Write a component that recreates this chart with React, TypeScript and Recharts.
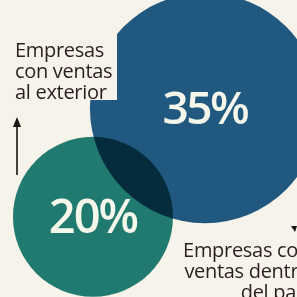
import React from "react";
import { ScatterChart, Scatter, XAxis, YAxis, ZAxis, LabelList } from "recharts";

// two overlapping circles: share of companies by where they sell
const exterior = [{ x: 69, y: 63.6, pct: 35 }];
const interior = [{ x: 31.3, y: 27, pct: 20 }];
const labelExterior = ["Empresas", "con ventas", "al exterior"];
const labelInterior = ["Empresas con", "ventas dentro", "del país"];

const PAPER = "#f6f3ea";
const FONT = "'Open Sans', 'DejaVu Sans', sans-serif";

const App: React.FC = () => {
  return (
    <div
      style={{
        position: "absolute",
        left: 0,
        top: 0,
        width: 297,
        height: 297,
        overflow: "hidden",
        background: PAPER,
        fontFamily: FONT,
      }}
    >
      <style>{`.venn path.recharts-symbols { mix-blend-mode: multiply; }`}</style>
      <ScatterChart
        className="venn"
        width={297}
        height={297}
        margin={{ top: 0, right: 0, bottom: 0, left: 0 }}
      >
        <XAxis type="number" dataKey="x" domain={[0, 100]} hide />
        <YAxis type="number" dataKey="y" domain={[0, 100]} hide />
        <ZAxis type="number" dataKey="pct" domain={[20, 35]} range={[20106, 41548]} />
        <Scatter data={exterior} fill="#215c8a" shape="circle" isAnimationActive={false}>
          <LabelList
            dataKey="pct"
            position="center"
            formatter={(v: any) => `${v}%`}
            fill="#f4f7ea"
            fontSize={46}
            fontWeight={600}
            letterSpacing={-2.5}
            fontFamily={FONT}
          />
        </Scatter>
        <Scatter data={interior} fill="#21807a" shape="circle" isAnimationActive={false}>
          <LabelList
            dataKey="pct"
            position="center"
            formatter={(v: any) => `${v}%`}
            fill="#f4f7ea"
            fontSize={47}
            fontWeight={600}
            letterSpacing={-2}
            fontFamily={FONT}
          />
        </Scatter>
      </ScatterChart>

      <div
        style={{
          position: "absolute",
          left: 0,
          top: 0,
          width: 117,
          height: 100,
          background: PAPER,
        }}
      />
      <div
        style={{
          position: "absolute",
          left: 15,
          top: 39,
          fontSize: 20,
          lineHeight: "21px",
          color: "#2a1f1c",
          letterSpacing: -0.3,
        }}
      >
        {labelExterior.map((t) => (
          <div key={t}>{t}</div>
        ))}
      </div>
      <svg style={{ position: "absolute", left: 0, top: 0 }} width={297} height={297}>
        <line x1={17} y1={126} x2={17} y2={175} stroke="#1a1412" strokeWidth={1.6} />
        <polygon points="17,117 13,127 21,127" fill="#1a1412" />
        <polygon points="291,226 297,226 295,232" fill="#1a1412" />
      </svg>
      <div
        style={{
          position: "absolute",
          left: 140,
          width: 170,
          top: 239,
          fontSize: 20,
          lineHeight: "21px",
          color: "#2a1f1c",
          textAlign: "right",
          letterSpacing: -0.3,
        }}
      >
        {labelInterior.map((t) => (
          <div key={t}>{t}</div>
        ))}
      </div>
    </div>
  );
};

export default App;
